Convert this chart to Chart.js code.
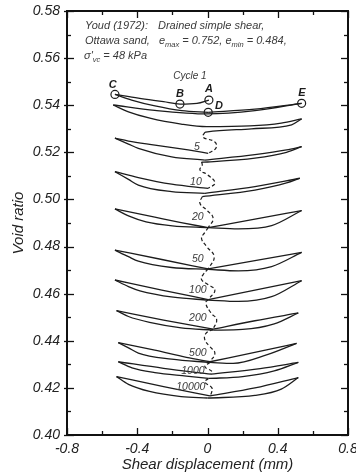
<!DOCTYPE html>
<html><head><meta charset="utf-8">
<script src="https://cdn.jsdelivr.net/npm/chart.js@4/dist/chart.umd.min.js"></script>
<style>html,body{margin:0;padding:0;background:#fff;}</style>
</head><body>
<canvas id="c" width="356" height="476"></canvas>
<script>
// ---------- data (shear displacement mm, void ratio) ----------
const xTicks = [-0.8, -0.4, 0, 0.4, 0.8];
const xMinor = [-0.6, -0.2, 0.2, 0.6];
const yTicks = [0.40, 0.42, 0.44, 0.46, 0.48, 0.50, 0.52, 0.54, 0.56, 0.58];
const yMinor = [0.41, 0.43, 0.45, 0.47, 0.49, 0.51, 0.53, 0.55, 0.57];

// cycle 1 (A-B-C-D-E) and cycle 2
const cyc1_CBA = [[-0.527,0.5446],[-0.394,0.5430],[-0.25,0.5415],[-0.157,0.5405],[-0.06,0.5408],[0.008,0.5422]];
const cyc1_CD  = [[-0.527,0.5446],[-0.432,0.5422],[-0.299,0.5397],[-0.147,0.5377],[0.004,0.5370]];
const cyc1_DE  = [[0.004,0.5370],[0.27,0.5383],[0.536,0.5408]];
const cyc2_up  = [[-0.537,0.5401],[-0.3,0.5378],[0.0,0.5363],[0.27,0.5377],[0.536,0.5408]];
const cyc2_low = [[-0.537,0.5401],[-0.45,0.5372],[-0.328,0.5345],[-0.15,0.5320],[-0.005,0.5309],[0.241,0.5312],[0.42,0.5324],[0.536,0.5342]];
const cyc2_ret = [[-0.015,0.5285],[0.0,0.5287],[0.25,0.5300],[0.479,0.5317],[0.536,0.5342]];
// cycle 5
const cyc5_upL  = [[-0.527,0.5260],[-0.45,0.5248],[-0.299,0.5231],[-0.11,0.5210],[0.004,0.5196]];
const cyc5_lowL = [[-0.527,0.5260],[-0.45,0.5235],[-0.394,0.5217],[-0.204,0.5181],[-0.015,0.5167]];
const cyc5_upR  = [[-0.015,0.5167],[0.27,0.5190],[0.45,0.5210],[0.536,0.5224]];
const cyc5_lowR = [[-0.034,0.5158],[0.0,0.5159],[0.27,0.5175],[0.45,0.5200],[0.536,0.5224]];
// cycle 10
const cyc10_upL  = [[-0.527,0.5118],[-0.394,0.5093],[-0.204,0.5065],[0.004,0.5047]];
const cyc10_lowL = [[-0.527,0.5118],[-0.45,0.5085],[-0.394,0.5061],[-0.204,0.5033],[-0.015,0.5026]];
const cyc10_upR  = [[-0.015,0.5026],[0.27,0.5054],[0.526,0.5090]];
const cyc10_lowR = [[-0.03,0.5012],[0.27,0.5040],[0.45,0.5070],[0.526,0.5090]];
// cycle 20
const cyc20_upL  = [[-0.527,0.4960],[-0.3,0.4925],[-0.15,0.4902],[0.004,0.4880]];
const cyc20_lowL = [[-0.527,0.4960],[-0.45,0.4930],[-0.35,0.4905],[-0.2,0.4888],[0.004,0.4880]];
const cyc20_upR  = [[0.004,0.4880],[0.27,0.4916],[0.536,0.4953]];
const cyc20_lowR = [[0.004,0.4880],[0.175,0.4875],[0.365,0.4889],[0.536,0.4953]];
// cycle 50
const cyc50_upL  = [[-0.527,0.4785],[-0.26,0.4745],[0.004,0.4705]];
const cyc50_lowL = [[-0.527,0.4785],[-0.45,0.4757],[-0.394,0.4738],[-0.204,0.4711],[0.004,0.4703]];
const cyc50_upR  = [[0.004,0.4705],[0.27,0.4740],[0.536,0.4775]];
const cyc50_lowR = [[0.004,0.4703],[0.175,0.4697],[0.365,0.4715],[0.536,0.4775]];
// cycle 100
const cyc100_upL  = [[-0.527,0.4658],[-0.26,0.4615],[0.004,0.4575]];
const cyc100_lowL = [[-0.527,0.4658],[-0.45,0.4630],[-0.385,0.4612],[-0.195,0.4585],[0.004,0.4573]];
const cyc100_upR  = [[0.004,0.4575],[0.27,0.4615],[0.536,0.4655]];
const cyc100_lowR = [[0.004,0.4573],[0.175,0.4567],[0.365,0.4587],[0.536,0.4655]];
// cycle 200
const cyc200_upL  = [[-0.518,0.4528],[-0.25,0.4488],[0.032,0.4449]];
const cyc200_lowL = [[-0.518,0.4528],[-0.45,0.4503],[-0.33,0.4478],[-0.15,0.4455],[0.032,0.4445]];
const cyc200_upR  = [[0.032,0.4449],[0.27,0.4485],[0.517,0.4518]];
const cyc200_lowR = [[0.032,0.4445],[0.2,0.4448],[0.38,0.4472],[0.517,0.4518]];
// cycle 500
const cyc500_upL  = [[-0.508,0.4392],[-0.3,0.4360],[-0.12,0.4330],[0.014,0.4311]];
const cyc500_lowL = [[-0.508,0.4392],[-0.45,0.4370],[-0.394,0.4348],[-0.204,0.4322],[0.014,0.4308]];
const cyc500_upR  = [[0.014,0.4311],[0.336,0.4361],[0.507,0.4389]];
const cyc500_lowR = [[0.014,0.4308],[0.146,0.4304],[0.336,0.4340],[0.507,0.4389]];
// cycle 1000
const cyc1000_upL  = [[-0.508,0.4311],[-0.25,0.4283],[0.02,0.4258]];
const cyc1000_lowL = [[-0.508,0.4311],[-0.43,0.4285],[-0.3,0.4265],[-0.12,0.4250],[0.005,0.4240]];
const cyc1000_upR  = [[0.02,0.4258],[0.3,0.4282],[0.517,0.4308]];
const cyc1000_lowR = [[0.005,0.4240],[0.2,0.4248],[0.38,0.4272],[0.517,0.4308]];
// cycle 10000
const cyc10000_upL  = [[-0.518,0.4248],[-0.25,0.4205],[0.014,0.4166]];
const cyc10000_lowL = [[-0.518,0.4248],[-0.45,0.4215],[-0.33,0.4185],[-0.15,0.4163],[0.0,0.4157]];
const cyc10000_upR  = [[0.014,0.4166],[0.27,0.4200],[0.517,0.4244]];
const cyc10000_lowR = [[0.0,0.4157],[0.27,0.4168],[0.42,0.4195],[0.517,0.4244]];
// dashed trend between displayed cycles
const dash_2to5      = [[-0.015,0.5285],[-0.026,0.5265],[0.042,0.5244],[0.048,0.5218],[0.004,0.5196]];
const dash_5to10     = [[-0.034,0.5158],[-0.03,0.5146],[-0.043,0.5125],[0.002,0.5104],[0.042,0.5070],[0.004,0.5047]];
const dash_10to20    = [[-0.03,0.5012],[-0.043,0.4984],[-0.005,0.4955],[0.032,0.4920],[0.004,0.4880]];
const dash_20to50    = [[0.004,0.4880],[-0.015,0.4860],[-0.034,0.4835],[-0.005,0.4800],[0.038,0.4757],[0.004,0.4705]];
const dash_50to100   = [[0.004,0.4705],[-0.024,0.4682],[-0.034,0.4660],[0.0,0.4640],[0.042,0.4615],[0.004,0.4575]];
const dash_100to200  = [[0.004,0.4575],[-0.01,0.4560],[0.02,0.4518],[0.052,0.4490],[0.032,0.4449]];
const dash_200to500  = [[0.032,0.4449],[-0.01,0.4430],[-0.015,0.4404],[0.014,0.4375],[0.042,0.4347],[0.014,0.4311]];
const dash_500to1000 = [[0.014,0.4308],[-0.015,0.4290],[0.025,0.4270],[0.02,0.4258]];
const dash_1000to10000 = [[0.005,0.4240],[-0.015,0.4225],[0.025,0.4200],[0.023,0.4180],[0.014,0.4166]];
// cycle-1 state points
const pointNames = ['A','B','C','D','E'];
const pointX = [0.008, -0.157, -0.527, 0.004, 0.536];
const pointY = [0.5422, 0.5405, 0.5446, 0.5370, 0.5408];
// cycle labels
const cycleNames = ['5','10','20','50','100','200','500','1000','10000'];

// ---------- datasets ----------
const solid = [cyc1_CBA,cyc1_CD,cyc1_DE,cyc2_up,cyc2_low,cyc2_ret,
  cyc5_upL,cyc5_lowL,cyc5_upR,cyc5_lowR, cyc10_upL,cyc10_lowL,cyc10_upR,cyc10_lowR,
  cyc20_upL,cyc20_lowL,cyc20_upR,cyc20_lowR, cyc50_upL,cyc50_lowL,cyc50_upR,cyc50_lowR,
  cyc100_upL,cyc100_lowL,cyc100_upR,cyc100_lowR, cyc200_upL,cyc200_lowL,cyc200_upR,cyc200_lowR,
  cyc500_upL,cyc500_lowL,cyc500_upR,cyc500_lowR, cyc1000_upL,cyc1000_lowL,cyc1000_upR,cyc1000_lowR,
  cyc10000_upL,cyc10000_lowL,cyc10000_upR,cyc10000_lowR];
const dashed = [dash_2to5,dash_5to10,dash_10to20,dash_20to50,dash_50to100,dash_100to200,dash_200to500,dash_500to1000,dash_1000to10000];
const toXY = a => a.map(([x,y]) => ({x, y}));
const datasets = [];
solid.forEach(p => datasets.push({data: toXY(p), showLine: true, pointRadius: 0, borderColor: '#1c1c1c',
  borderWidth: 1.3, cubicInterpolationMode: 'monotone', fill: false}));
dashed.forEach(p => datasets.push({data: toXY(p), showLine: true, pointRadius: 0, borderColor: '#1c1c1c',
  borderWidth: 1.2, tension: 0.45, borderDash: [3.5, 2.5], fill: false}));
datasets.push({data: pointX.map((x,i)=>({x, y: pointY[i]})), showLine: false, pointRadius: 4,
  pointBackgroundColor: '#fff', pointBorderColor: '#1c1c1c', pointBorderWidth: 1.2});

// label anchor positions (data coordinates)
const cycleLabelPos = [[-0.060,0.5224],[-0.066,0.5075],[-0.055,0.4927],[-0.055,0.4747],[-0.055,0.4616],
  [-0.055,0.4497],[-0.055,0.4348],[-0.083,0.4272],[-0.095,0.4204]];
const pointLabelPos = [[0.008,0.5469],[-0.157,0.5448],[-0.539,0.5486],[0.065,0.5397],[0.538,0.5452]];

const FONT = '"Liberation Sans", Arial, sans-serif';

const decor = {
  id: 'decor',
  afterDraw(chart) {
    const {ctx, chartArea: a, scales: {x, y}} = chart;
    ctx.save();
    ctx.strokeStyle = '#111';
    ctx.lineWidth = 1.3;
    const seg = (x1,y1,x2,y2) => { ctx.beginPath(); ctx.moveTo(x1,y1); ctx.lineTo(x2,y2); ctx.stroke(); };
    xTicks.forEach(v => { const p = Math.round(x.getPixelForValue(v)) + 0.5; seg(p,a.bottom,p,a.bottom-7); seg(p,a.top,p,a.top+7); });
    xMinor.forEach(v => { const p = Math.round(x.getPixelForValue(v)) + 0.5; seg(p,a.bottom,p,a.bottom-4); seg(p,a.top,p,a.top+4); });
    yTicks.forEach(v => { const p = Math.round(y.getPixelForValue(v)) + 0.5; seg(a.left-3,p,a.left+7,p); seg(a.right,p,a.right-7,p); });
    yMinor.forEach(v => { const p = Math.round(y.getPixelForValue(v)) + 0.5; seg(a.left,p,a.left+4,p); seg(a.right,p,a.right-4,p); });
    ctx.lineWidth = 2;
    ctx.strokeRect(a.left, a.top, a.right - a.left, a.bottom - a.top);

    // header text
    ctx.fillStyle = '#3a3a3a';
    ctx.textBaseline = 'alphabetic';
    ctx.textAlign = 'left';
    const main = 'italic 11px ' + FONT, sub = 'italic 7.5px ' + FONT;
    const run = (parts, x0, yb) => {
      let cx = x0;
      parts.forEach(([t, s]) => { ctx.font = s ? sub : main; ctx.fillText(t, cx, yb + (s ? 3 : 0)); cx += ctx.measureText(t).width; });
    };
    run([['Youd (1972):', 0]], 85, 29);
    run([['Drained simple shear,', 0]], 158, 29);
    run([['Ottawa sand,', 0]], 85, 44);
    run([['e',0],['max',1],[' = 0.752, e',0],['min',1],[' = 0.484,',0]], 159, 44);
    run([["σ'",0],['vc',1],[' = 48 kPa',0]], 84, 59);
    ctx.textAlign = 'center';
    ctx.font = 'italic 10px ' + FONT;
    ctx.fillText('Cycle 1', x.getPixelForValue(-0.10), y.getPixelForValue(0.5528) + 4);
    ctx.textBaseline = 'middle';
    ctx.font = 'italic 10.5px ' + FONT;
    cycleNames.forEach((t,i) => ctx.fillText(t, x.getPixelForValue(cycleLabelPos[i][0]), y.getPixelForValue(cycleLabelPos[i][1])));
    ctx.fillStyle = '#1c1c1c';
    ctx.font = 'italic bold 11px ' + FONT;
    pointNames.forEach((t,i) => ctx.fillText(t, x.getPixelForValue(pointLabelPos[i][0]), y.getPixelForValue(pointLabelPos[i][1])));
    ctx.restore();
  }
};

new Chart(document.getElementById('c'), {
  type: 'scatter',
  data: {datasets},
  plugins: [decor],
  options: {
    responsive: false, animation: false, devicePixelRatio: 1,
    layout: {padding: {top: 11, right: 8, left: 0, bottom: 0}},
    plugins: {legend: {display: false}, tooltip: {enabled: false}},
    scales: {
      x: {
        type: 'linear', min: -0.8, max: 0.8,
        grid: {display: false, drawTicks: false}, border: {display: false},
        ticks: {stepSize: 0.4, autoSkip: false, maxRotation: 0, padding: 6, color: '#222',
          font: {family: FONT, size: 14, style: 'italic'},
          callback: v => Math.abs(v) < 1e-9 ? '0' : (Math.round(v*10)/10).toFixed(1)},
        title: {display: true, text: 'Shear displacement (mm)', color: '#222',
          font: {family: FONT, size: 15, style: 'italic'}, padding: {top: 0, bottom: 2}},
        afterFit: s => { s.height = 41; s.paddingLeft = 0; s.paddingRight = 0; }
      },
      y: {
        type: 'linear', min: 0.40, max: 0.58,
        grid: {display: false, drawTicks: false}, border: {display: false},
        ticks: {stepSize: 0.02, autoSkip: false, padding: 7, color: '#222',
          font: {family: FONT, size: 14, style: 'italic'},
          callback: v => v.toFixed(2)},
        title: {display: true, text: 'Void ratio', color: '#222',
          font: {family: FONT, size: 15, style: 'italic'}, padding: {top: 10, bottom: 0}},
        afterFit: s => { s.width = 67; s.paddingTop = 0; s.paddingBottom = 0; }
      }
    }
  }
});
</script>
</body></html>
